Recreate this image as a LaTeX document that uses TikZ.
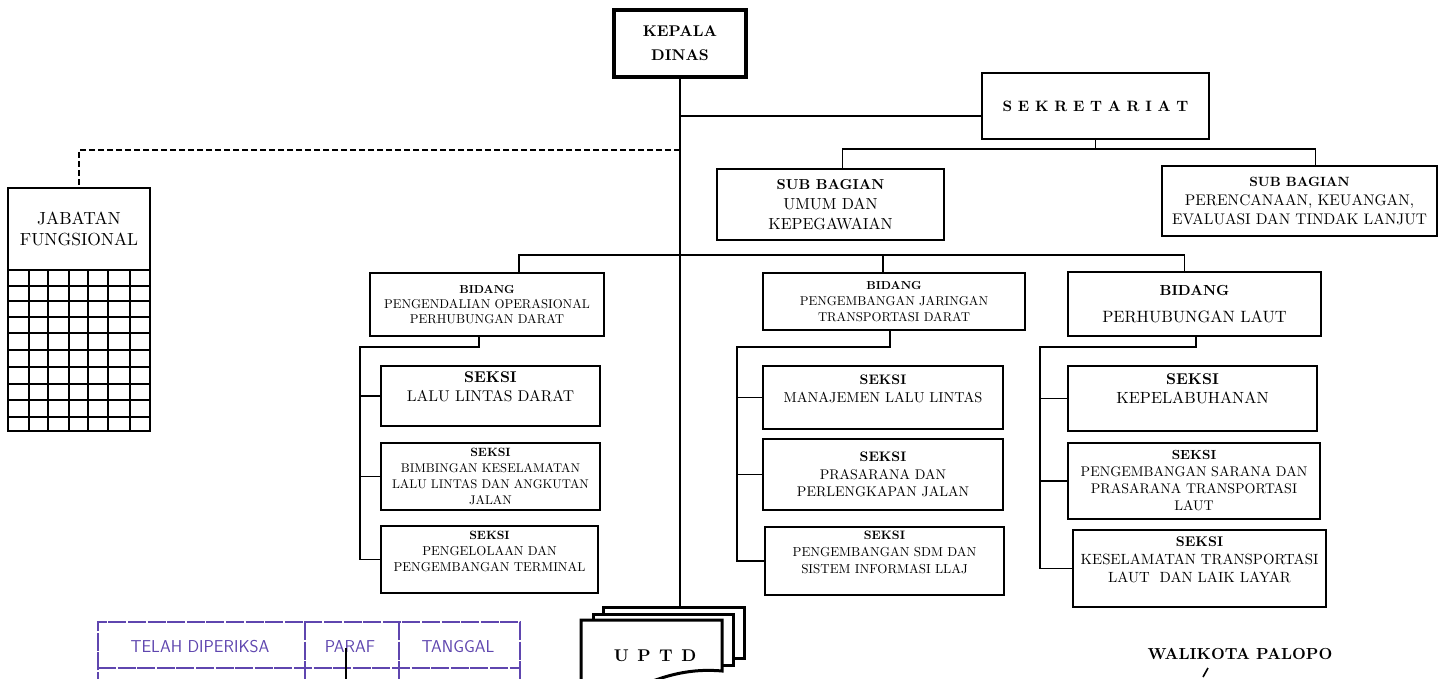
\documentclass[tikz,border=0pt]{standalone}
\usepackage{fontspec}
\setmainfont{lmroman10-regular.otf}[BoldFont=lmroman10-bold.otf, ItalicFont=lmroman10-italic.otf]
\usetikzlibrary{positioning}
\definecolor{ungu}{RGB}{95,70,175}
\newcommand{\ukuran}[2]{\fontsize{#1}{#2}\selectfont}

\begin{document}
\begin{tikzpicture}[x=1pt, y=-1pt,
    kotak/.style={draw, line width=1.8pt, inner sep=0pt, align=center, fill=white},
    lembar/.style={draw, line width=3pt, fill=white},
    garis/.style={line width=1.8pt},
    stempel/.style={draw=ungu, line width=1.8pt, dash pattern=on 18pt off 1.6pt}]
    \useasboundingbox (0,0) rectangle (1449,678);
    \fill[white] (0,0) rectangle (1449,678);

    % pimpinan dan sekretariat
    \node[kotak, line width=3.6pt, minimum width=132pt, minimum height=67pt, font=\ukuran{15.5}{24}\bfseries] (kepala) at (680,43.5) {KEPALA\\DINAS};
    \node[kotak, minimum width=227pt, minimum height=66pt, font=\ukuran{15}{18}\bfseries] (sekre) at (1095.5,106) {S E K R E T A R I A T};
    \node[kotak, minimum width=227pt, minimum height=71pt, font=\ukuran{16}{20}] (subumum) at (830.5,204.5) {\textbf{\ukuran{14.4}{20}SUB BAGIAN}\\UMUM DAN\\KEPEGAWAIAN};
    \node[kotak, minimum width=275pt, minimum height=70pt, font=\ukuran{15.4}{18.6}] (subrenc) at (1299.5,201) {\textbf{\ukuran{13.4}{18.6}SUB BAGIAN}\\PERENCANAAN, KEUANGAN,\\EVALUASI DAN TINDAK LANJUT};

    % jabatan fungsional
    \node[kotak, minimum width=142pt, minimum height=82pt, font=\ukuran{17.5}{21}] (jabatan) at (79,229) {JABATAN\\FUNGSIONAL};
    \draw[garis] (8,270) rectangle (150,431);
    \foreach \x in {29,48,69,88,108,130} \draw[garis] (\x,270) -- (\x,431);
    \foreach \y in {286,301,317,333,350,367,384,400,417} \draw[garis] (8,\y) -- (150,\y);

    % bidang
    \node[kotak, minimum width=234pt, minimum height=63pt, font=\ukuran{12.8}{15.4}] (bid1) at (487,304.5) {\textbf{\ukuran{11.6}{15.4}BIDANG}\\PENGENDALIAN OPERASIONAL\\PERHUBUNGAN DARAT};
    \node[kotak, minimum width=262pt, minimum height=57pt, font=\ukuran{12.8}{16}] (bid2) at (894,301.5) {\textbf{\ukuran{11.6}{16}BIDANG}\\PENGEMBANGAN JARINGAN\\TRANSPORTASI DARAT};
    \node[kotak, minimum width=253pt, minimum height=64pt, font=\ukuran{16.4}{27}] (bid3) at (1194.5,304) {\textbf{\ukuran{14.6}{27}BIDANG}\\PERHUBUNGAN LAUT};

    % seksi
    \node[kotak, minimum width=219pt, minimum height=60pt, font=\ukuran{15.6}{19}] (s11) at (490.5,396) {\textbf{SEKSI}\\LALU LINTAS DARAT\\\mbox{}};
    \node[kotak, minimum width=219pt, minimum height=67pt, font=\ukuran{12.6}{16}] (s12) at (490.5,476.5) {\textbf{\ukuran{12}{16}SEKSI}\\BIMBINGAN KESELAMATAN\\LALU LINTAS DAN ANGKUTAN\\JALAN};
    \node[kotak, minimum width=217pt, minimum height=67pt, font=\ukuran{12.9}{16}] (s13) at (489.5,559.5) {\textbf{\ukuran{12}{16}SEKSI}\\PENGELOLAAN DAN\\PENGEMBANGAN TERMINAL\\\mbox{}};
    \node[kotak, minimum width=240pt, minimum height=63pt, font=\ukuran{14.4}{18}] (s21) at (883,397.5) {\textbf{\ukuran{13.8}{18}SEKSI}\\MANAJEMEN LALU LINTAS\\\mbox{}};
    \node[kotak, minimum width=240pt, minimum height=71pt, font=\ukuran{14}{17.4}] (s22) at (883,474.5) {\textbf{\ukuran{13.8}{17.4}SEKSI}\\PRASARANA DAN\\PERLENGKAPAN JALAN};
    \node[kotak, minimum width=239pt, minimum height=68pt, font=\ukuran{13}{17}] (s23) at (884.5,561) {\textbf{\ukuran{12.2}{17}SEKSI}\\PENGEMBANGAN SDM DAN\\SISTEM INFORMASI LLAJ\\\mbox{}};
    \node[kotak, minimum width=249pt, minimum height=65pt, font=\ukuran{16.2}{19}] (s31) at (1192.5,398.5) {\textbf{\ukuran{15.6}{19}SEKSI}\\KEPELABUHANAN\\\mbox{}};
    \node[kotak, minimum width=252pt, minimum height=76pt, font=\ukuran{14}{17}] (s32) at (1194,481) {\textbf{\ukuran{13.2}{17}SEKSI}\\PENGEMBANGAN SARANA DAN\\PRASARANA TRANSPORTASI\\LAUT};
    \node[kotak, minimum width=253pt, minimum height=77pt, font=\ukuran{14.8}{18}] (s33) at (1199.5,568.5) {\textbf{\ukuran{14}{18}SEKSI}\\KESELAMATAN TRANSPORTASI\\LAUT\ \ DAN LAIK LAYAR\\\mbox{}};

    % garis komando
    \coordinate (uptdtop) at (680,607);
    \draw[garis] (kepala.south) -- (kepala.south |- uptdtop);
    \coordinate (ts) at ([yshift=-10pt]sekre.west);
    \draw[garis] (ts) -- (ts -| kepala.south);
    \coordinate (ks) at ([yshift=-9pt]sekre.south);
    \draw[garis] (sekre.south) -- (ks);
    \draw[garis] ([xshift=12pt]subumum.north) |- (ks) -| ([xshift=16pt]subrenc.north);
    \coordinate (tj) at (680,150);
    \draw[garis, dash pattern=on 6pt off 3pt] (tj) -| (jabatan.north);
    \coordinate (kb) at (680,255);
    \draw[garis] ([xshift=32pt]bid1.north) |- (kb) -| ([xshift=-10pt]bid3.north);
    \draw[garis] ([xshift=-11pt]bid2.north) -- ([xshift=-11pt]bid2.north |- kb);

    \coordinate (k1) at (360,347);
    \coordinate (k2) at (737,347);
    \coordinate (k3) at (1040,347);
    \draw[garis] ([xshift=-8pt]bid1.south) |- (k1) |- (s13.west);
    \draw[garis] ([xshift=-4pt]bid2.south) |- (k2) |- (s23.west);
    \draw[garis] ([xshift=1.5pt]bid3.south) |- (k3) |- (s33.west);
    \foreach \k/\s in {k1/s11, k1/s12, k2/s21, k2/s22, k3/s31, k3/s32}
        \draw[garis] (\s.west) -- (\s.west -| \k);

    % uptd
    \draw[lembar] (603,607) rectangle (744,658);
    \draw[lembar] (593,614) rectangle (733,665);
    \draw[lembar] (581,620) -- (722,620) -- (722,671) .. controls (690,668) and (665,676) .. (645,684) .. controls (620,692) and (600,694) .. (581,692) -- cycle;
    \node[font=\ukuran{17}{20}\bfseries] (uptd) at (655,656) {U\enspace P\enspace T\enspace D};

    % stempel paraf
    \draw[stempel] (98,690) -- (98,622) -- (520,622) -- (520,690);
    \draw[stempel] (98,668) -- (520,668);
    \draw[stempel] (305,622) -- (305,690);
    \draw[stempel] (399,622) -- (399,690);
    \node[text=ungu, font=\ukuran{17.2}{20}\sffamily] (telah) at (200,647) {TELAH DIPERIKSA};
    \node[text=ungu, font=\ukuran{17.2}{20}\sffamily] (paraf) at (350,647) {PARAF};
    \node[text=ungu, font=\ukuran{17.2}{20}\sffamily] (tanggal) at (458,647) {TANGGAL};
    \draw[line width=1.4pt] (346,648) -- (346,690);

    % tanda tangan
    \node[font=\ukuran{16}{20}\bfseries] (walikota) at (1240,654) {WALIKOTA PALOPO};
    \draw[line width=1.6pt] (1203,677) -- (1208,668);
\end{tikzpicture}
\end{document}
